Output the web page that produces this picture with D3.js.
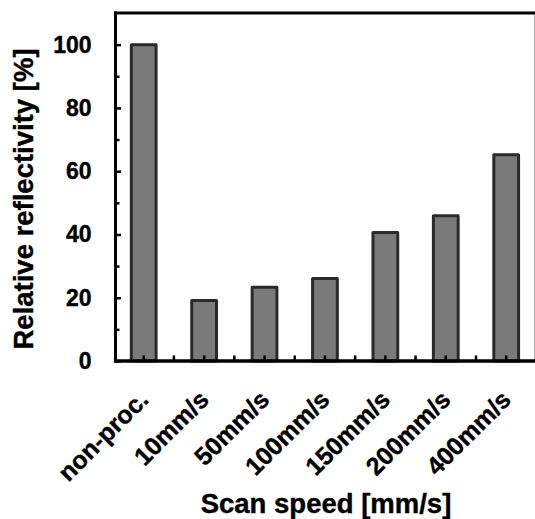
<!DOCTYPE html>
<html>
<head>
<meta charset="utf-8">
<script src="https://cdn.jsdelivr.net/npm/d3@7"></script>
<style>
  html, body { margin: 0; padding: 0; background: #fff; }
  svg { display: block; }
  text { font-family: "Liberation Sans", Arial, sans-serif; font-weight: bold; fill: #000; }
</style>
</head>
<body>
<svg id="chart" width="535" height="519"></svg>
<script>
const categories = ["non-proc.", "10mm/s", "50mm/s", "100mm/s", "150mm/s", "200mm/s", "400mm/s"];
const reflectivity = [100, 19.1, 23.3, 26.1, 40.6, 45.9, 65.2];
const yMajorTicks = [0, 20, 40, 60, 80, 100];
const yMinorTicks = [10, 30, 50, 70, 90];
const xTitle = "Scan speed [mm/s]";
const yTitle = "Relative reflectivity [%]";

(function () {
const svg = d3.select("#chart");
const pL = 115.5, pR = 534.5, pT = 13, pB = 361;

const y = d3.scaleLinear().domain([0, 110]).range([pB, pT]);
const x = d3.scaleBand().domain(categories).range([113.5, 536.4]).padding(0);
const barW = x.bandwidth() * 0.41;

// bars
svg.append("g").selectAll("rect").data(categories).join("rect")
  .attr("x", (d) => x(d) + (x.bandwidth() - barW) / 2)
  .attr("y", (d, i) => y(reflectivity[i]))
  .attr("width", barW)
  .attr("height", (d, i) => y(0) - y(reflectivity[i]))
  .attr("fill", "#7a7a7a")
  .attr("stroke", "#2a2a2a")
  .attr("stroke-width", 3)
  .attr("stroke-linejoin", "round");

// frame: right border light, top border black
svg.append("line").attr("x1", pR).attr("x2", pR).attr("y1", pT).attr("y2", pB)
  .attr("stroke", "#b0b0b0").attr("stroke-width", 1);
svg.append("line").attr("x1", pL - 1.5).attr("x2", 535).attr("y1", pT).attr("y2", pT)
  .attr("stroke", "#000").attr("stroke-width", 3);

// y axis major
const yAxis = svg.append("g").attr("transform", `translate(${pL},0)`)
  .call(d3.axisLeft(y).tickValues(yMajorTicks).tickSize(-5.5).tickPadding(25).tickFormat(d3.format("d")));
yAxis.select(".domain").remove();
yAxis.selectAll(".tick line").attr("stroke", "#000").attr("stroke-width", 2.5);
yAxis.selectAll(".tick text").attr("font-size", 23).attr("font-family", "Liberation Sans, Arial, sans-serif")
  .attr("font-weight", "bold").attr("x", -24).attr("text-anchor", "end")
  .attr("stroke", "#000").attr("stroke-width", 0.4);

// y axis minor
const yMinor = svg.append("g").attr("transform", `translate(${pL},0)`)
  .call(d3.axisLeft(y).tickValues(yMinorTicks).tickSize(-4).tickFormat(""));
yMinor.select(".domain").remove();
yMinor.selectAll(".tick line").attr("stroke", "#000").attr("stroke-width", 2.5);

// x axis: ticks at centers and boundaries
const xAxis = svg.append("g").attr("transform", `translate(0,${pB})`)
  .call(d3.axisBottom(x).tickSize(-5.5).tickFormat(""));
xAxis.select(".domain").remove();
xAxis.selectAll(".tick line").attr("stroke", "#000").attr("stroke-width", 2.5);
const boundaries = categories.slice(1);
xAxis.selectAll(".bnd").data(boundaries).join("line").attr("class", "bnd")
  .attr("x1", (d) => x(d)).attr("x2", (d) => x(d)).attr("y1", 0).attr("y2", -5.5)
  .attr("stroke", "#000").attr("stroke-width", 2.5);

// x labels rotated
svg.append("g").selectAll("text").data(categories).join("text")
  .attr("transform", (d) => `translate(${x(d) + x.bandwidth() / 2},395) rotate(-45)`)
  .attr("text-anchor", "end")
  .attr("dy", "0.35em")
  .attr("font-size", 25)
  .attr("stroke", "#000").attr("stroke-width", 0.4)
  .text((d) => d);

// axis lines
svg.append("line").attr("x1", pL).attr("x2", pL).attr("y1", pT - 1.5).attr("y2", pB + 1.5)
  .attr("stroke", "#000").attr("stroke-width", 3);
svg.append("line").attr("x1", pL - 1.5).attr("x2", 535).attr("y1", pB).attr("y2", pB)
  .attr("stroke", "#000").attr("stroke-width", 3.5);

// titles
svg.append("text").attr("x", 326).attr("y", 513).attr("text-anchor", "middle")
  .attr("font-size", 27.5).attr("stroke", "#000").attr("stroke-width", 0.4).text(xTitle);
svg.append("text").attr("transform", "translate(33,199) rotate(-90)").attr("text-anchor", "middle")
  .attr("font-size", 27.5).attr("stroke", "#000").attr("stroke-width", 0.4).text(yTitle);
})();
</script>
</body>
</html>
